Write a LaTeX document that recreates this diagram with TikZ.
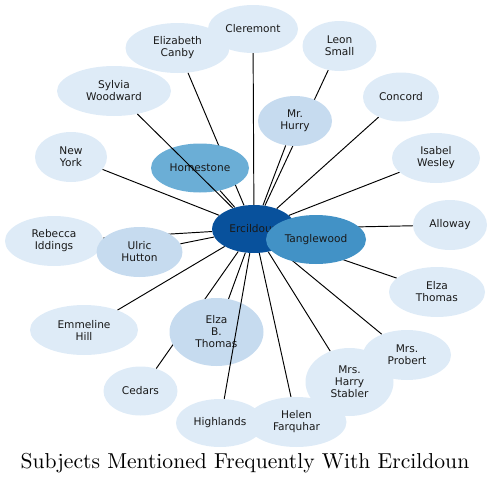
\documentclass[tikz,border=0pt]{standalone}
\usepackage{fontspec}
\newfontfamily\nodefont{DejaVu Sans}
\newfontfamily\titlefont{lmroman10-regular.otf}
\usetikzlibrary{shapes.geometric}
\definecolor{bA}{HTML}{DEEBF7}
\definecolor{bB}{HTML}{C6DBEF}
\definecolor{bC}{HTML}{6BAED6}
\definecolor{bD}{HTML}{4292C6}
\definecolor{bE}{HTML}{08519C}
\pgfdeclarelayer{bg}
\pgfsetlayers{bg,main}
\tikzset{
  ell/.style n args={2}{ellipse, inner sep=0pt, minimum width=#1pt, minimum height=#2pt,
    align=center, font=\nodefont\fontsize{10.6}{12}\selectfont, text=black!90},
  lvA/.style={fill=bA},
  lvB/.style={fill=bB},
  lvC/.style={fill=bC},
  lvD/.style={fill=bD},
  lvE/.style={fill=bE},
  edge/.style={draw=black, line width=0.95pt},
}
\begin{document}
\begin{tikzpicture}[x=1pt,y=-1pt]
\useasboundingbox (0,0) rectangle (491,483);
% nodes
\node[ell={90}{48}, lvA] (cle) at (253,29) {Cleremont};
\node[ell={104}{50}, lvA] (eca) at (177.5,48) {Elizabeth\\Canby};
\node[ell={114}{50}, lvA] (syl) at (114,91) {Sylvia\\Woodward};
\node[ell={72}{50}, lvA] (nyk) at (71,157) {New\\York};
\node[ell={98}{49}, lvC] (hom) at (200,168) {Homestone};
\node[ell={98}{50}, lvA] (reb) at (54,241) {Rebecca\\Iddings};
\node[ell={86}{50}, lvB] (ulr) at (139.5,252) {Ulric\\Hutton};
\node[ell={108}{50}, lvA] (emm) at (84,330) {Emmeline\\Hill};
\node[ell={74}{49}, lvA] (ced) at (140.5,391) {Cedars};
\node[ell={94}{68}, lvB] (ebt) at (216.5,332) {Elza\\B.\\Thomas};
\node[ell={88}{48}, lvA] (hig) at (220,423) {Highlands};
\node[ell={100}{50}, lvA] (hel) at (296.5,422) {Helen\\Farquhar};
\node[ell={88}{68}, lvA] (mhs) at (349.5,382) {Mrs.\\Harry\\Stabler};
\node[ell={88}{50}, lvA] (mpr) at (407,355) {Mrs.\\Probert};
\node[ell={96}{50}, lvA] (elt) at (437,292) {Elza\\Thomas};
\node[ell={74}{50}, lvA] (all) at (450,225) {Alloway};
\node[ell={88}{50}, lvA] (isa) at (436,158) {Isabel\\Wesley};
\node[ell={76}{49}, lvA] (con) at (401,97) {Concord};
\node[ell={74}{50}, lvA] (leo) at (339.5,46) {Leon\\Small};
\node[ell={74}{50}, lvB] (mhu) at (295,121) {Mr.\\Hurry};
\node[ell={84}{48}, lvE] (erc) at (254,229) {Ercildoun};
\node[ell={100}{49}, lvD] (tan) at (316,239.5) {Tanglewood};
% edges hidden behind other nodes
\begin{pgfonlayer}{bg}
\foreach \n in {cle,eca,nyk,hom,reb,ulr,emm,ced,ebt,hel,mhs,mpr,elt,all,isa,con,leo,mhu,tan}
  \draw[edge] (\n) -- (erc);
\end{pgfonlayer}
% edges drawn over nodes
\draw[edge] (syl) -- (erc);
\draw[edge] (hig) -- (erc);
% title
\node[anchor=base, font=\titlefont\fontsize{21.6}{26}\selectfont, inner sep=0pt] (ttl) at (245,468) {Subjects Mentioned Frequently With Ercildoun};
\end{tikzpicture}
\end{document}
